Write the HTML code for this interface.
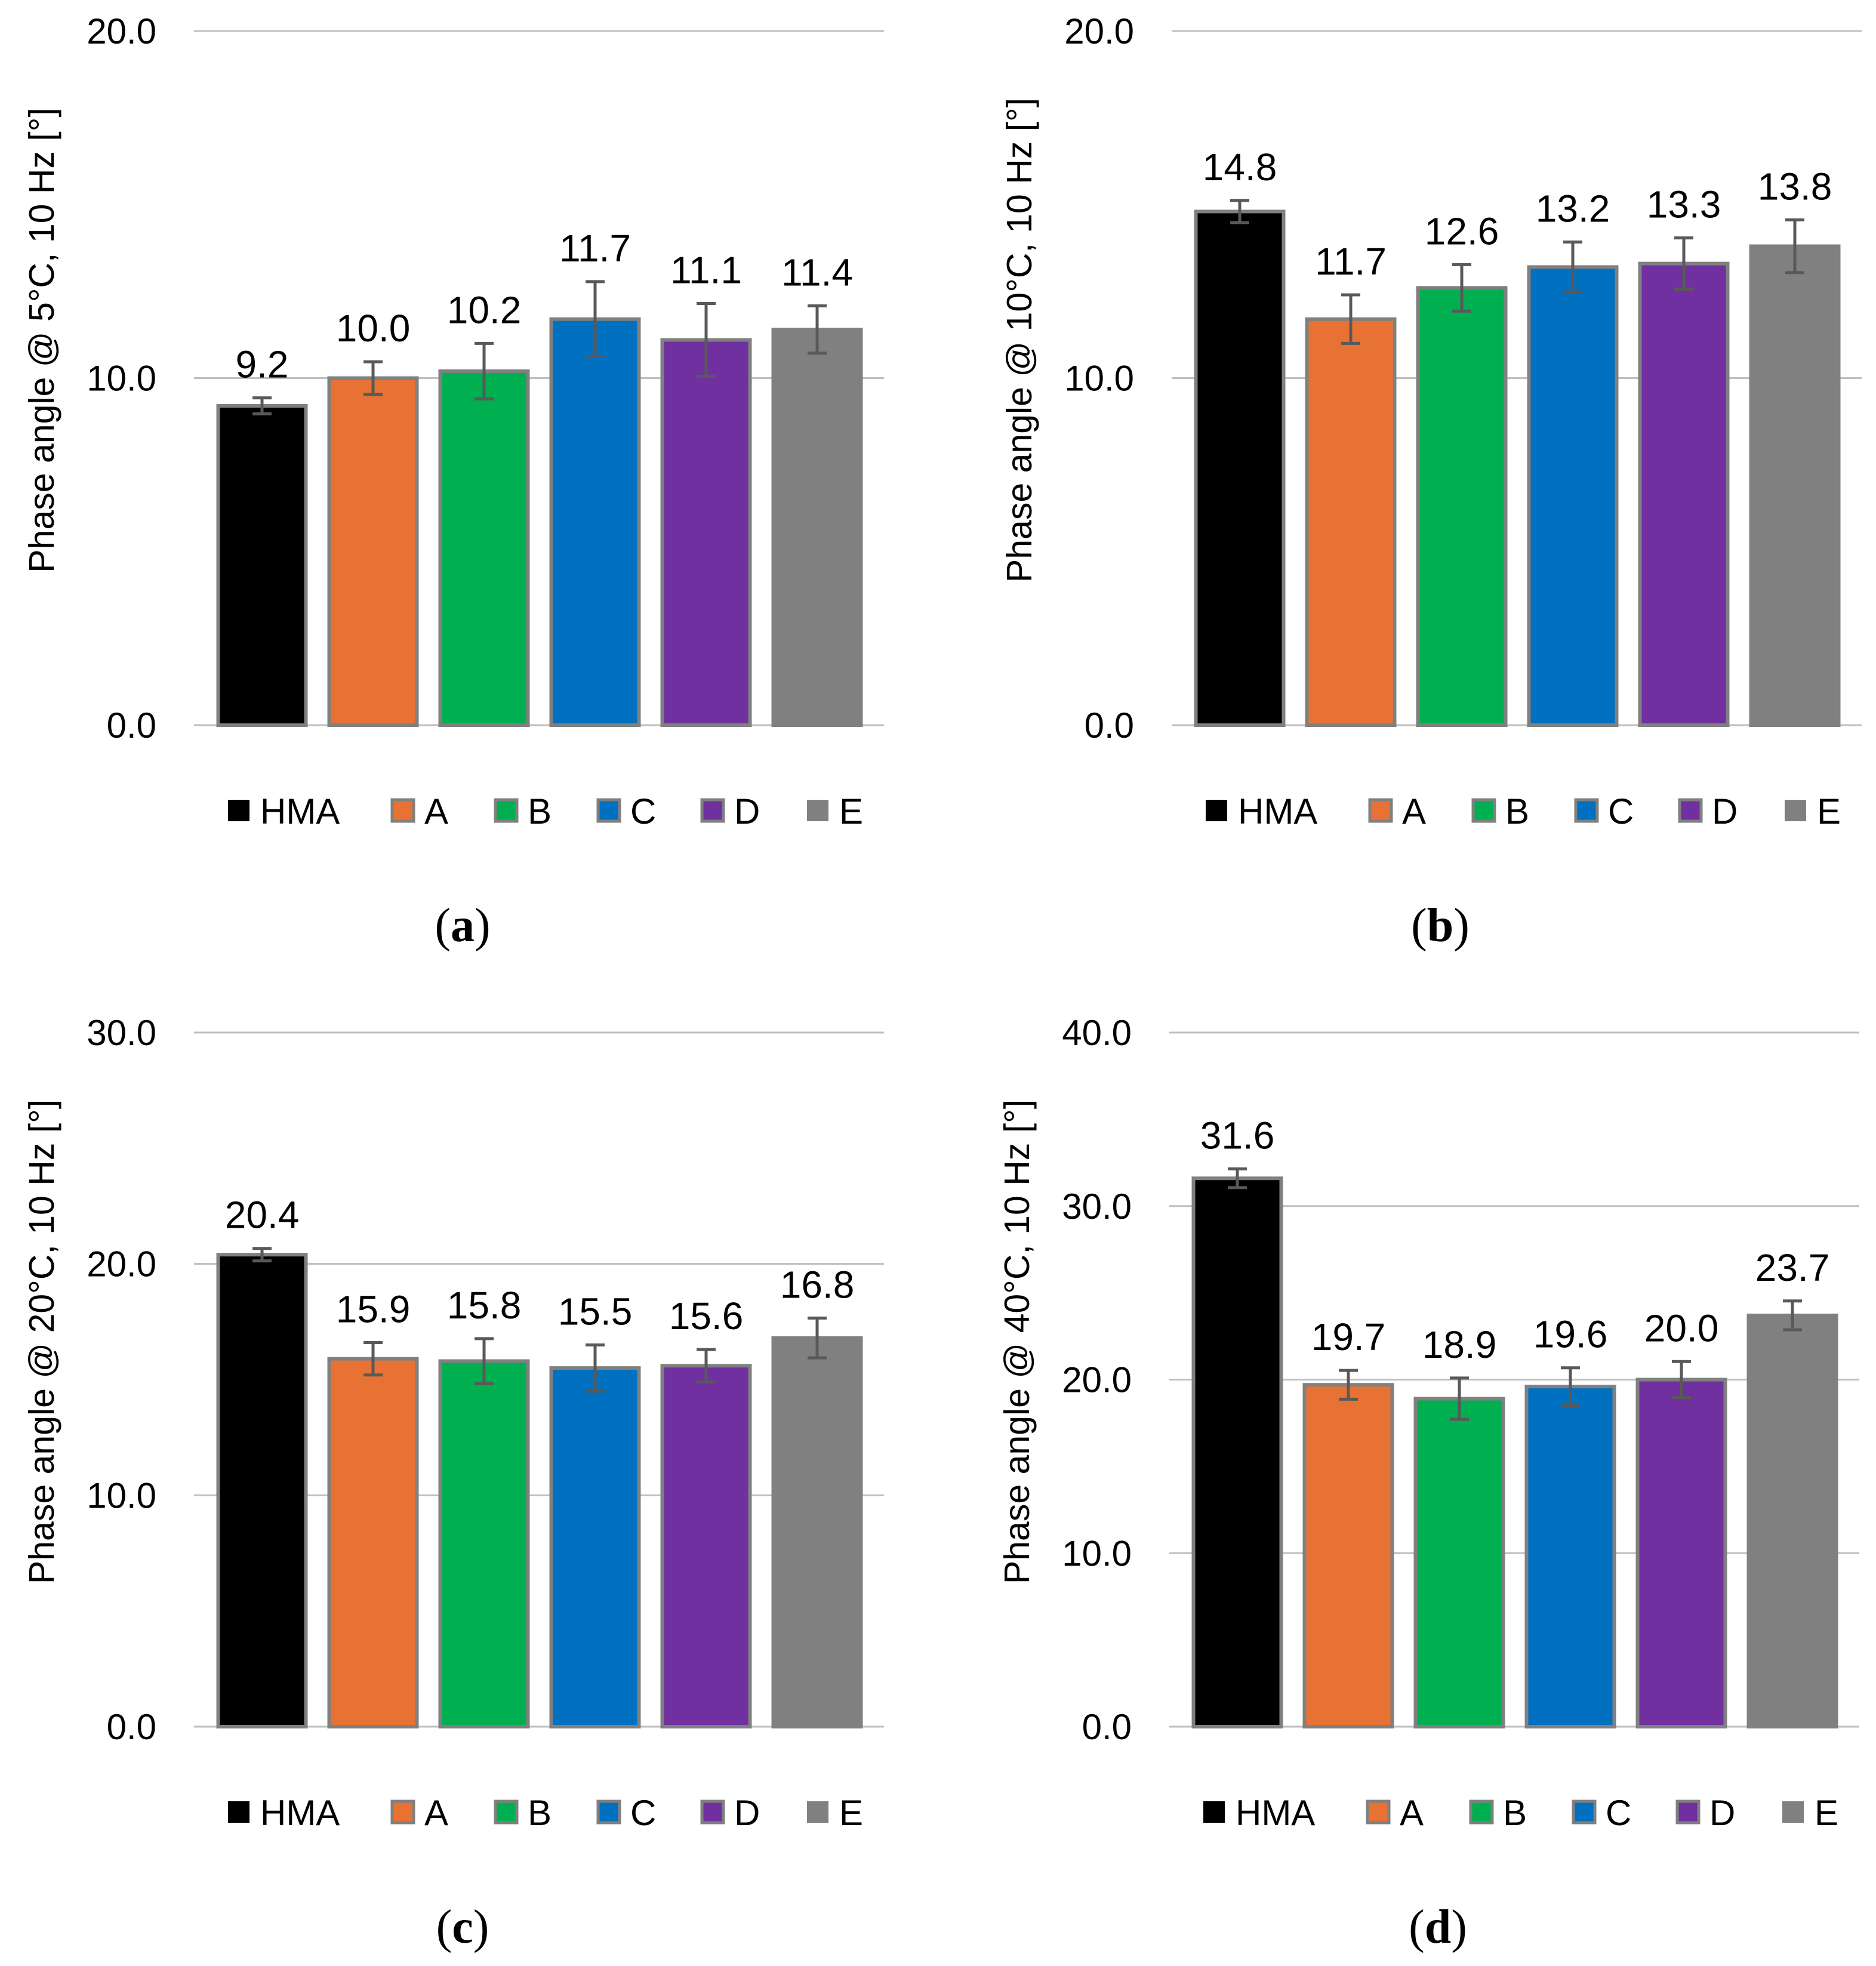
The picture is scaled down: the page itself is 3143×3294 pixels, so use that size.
<!DOCTYPE html>
<html><head><meta charset="utf-8">
<style>
html,body{margin:0;padding:0;background:#fff;}
svg{display:block;}
text{font-family:"Liberation Sans",sans-serif;fill:#000;}
</style></head>
<body>
<svg id="fig" xmlns="http://www.w3.org/2000/svg" width="3143" height="3294" viewBox="0 0 3143 3294"></svg>
<script>
const categories = ["HMA","A","B","C","D","E"];
const colors = ["#000000","#E87234","#00B050","#0070C0","#7030A0","#808080"];
const valuesA = [9.2,10.0,10.2,11.7,11.1,11.4];
const errorsA = [0.23,0.47,0.8,1.08,1.05,0.68];
const valuesB = [14.8,11.7,12.6,13.2,13.3,13.8];
const errorsB = [0.32,0.7,0.67,0.72,0.74,0.76];
const valuesC = [20.4,15.9,15.8,15.5,15.6,16.8];
const errorsC = [0.27,0.7,0.97,1.0,0.7,0.86];
const valuesD = [31.6,19.7,18.9,19.6,20.0,23.7];
const errorsD = [0.54,0.83,1.19,1.08,1.04,0.83];
const ticksA = [0,10,20];
const ticksB = [0,10,20];
const ticksC = [0,10,20,30];
const ticksD = [0,10,20,30,40];
const titles = ["Phase angle @ 5\u00B0C, 10 Hz [\u00B0]","Phase angle @ 10\u00B0C, 10 Hz [\u00B0]","Phase angle @ 20\u00B0C, 10 Hz [\u00B0]","Phase angle @ 40\u00B0C, 10 Hz [\u00B0]"];
const captions = ["a","b","c","d"];

const NS = "http://www.w3.org/2000/svg";
const svg = document.getElementById("fig");
function mk(tag, attrs, parent){
  const e = document.createElementNS(NS, tag);
  for (const k in attrs) e.setAttribute(k, attrs[k]);
  (parent||svg).appendChild(e);
  return e;
}

function panel(idx, ox, oy, values, errors, ticks){
  const g = mk("g", {});
  
  
  const x0 = ox + 325, x1 = ox + 1481;
  const yTop = oy + 52, yBot = oy + 1215;
  const maxV = ticks[ticks.length-1];
  const yS = v => yBot - (v / maxV) * (yBot - yTop);
  const bw = 147;
  const xS = i => ox + 439 + 186 * i;

  ticks.forEach(t => {
    const l = mk("line", {x1:x0, x2:x1, y1:yS(t), y2:yS(t), stroke:"#BFBFBF", "stroke-width":3}, g);
    
    
    const tx = mk("text", {x:ox+262, y:yS(t)+21, "text-anchor":"end", "font-size":60}, g);
    tx.textContent = t.toFixed(1);
    
    
  });

  const yt = mk("text", {x:0, y:0, "text-anchor":"middle", "font-size":59,
    transform:`translate(${ox+90},${oy+570}) rotate(-90)`}, g);
  yt.textContent = titles[idx];
  
  

  values.forEach((v, i) => {
    const cx = xS(i);
    const r = mk("rect", {x:cx-bw/2, y:yS(v), width:bw, height:yBot-yS(v), fill:colors[i], stroke:"#808080", "stroke-width":6}, g);
    
    
    const e = errors[i];
    const et = yS(v+e), eb = yS(v-e);
    const eg = mk("g", {stroke:"#595959", "stroke-width":5}, g);
    
    
    mk("line", {x1:cx, x2:cx, y1:et, y2:eb}, eg);
    mk("line", {x1:cx-16, x2:cx+16, y1:et, y2:et}, eg);
    mk("line", {x1:cx-16, x2:cx+16, y1:eb, y2:eb}, eg);
    const lb = mk("text", {x:cx, y:Math.min(et, yS(v)) - 34, "text-anchor":"middle", "font-size":64}, g);
    lb.textContent = v.toFixed(1);
    
    
  });

  const legX = [382, 657, 830, 1002, 1176, 1352];
  const ly = oy + 1358;
  categories.forEach((c, i) => {
    const lg = mk("g", {}, g);
    
    
    mk("rect", {x:ox+legX[i], y:ly-18, width:36, height:36, fill:colors[i], stroke:"#808080", "stroke-width":(i===0||i===5)?0:5}, lg);
    const t = mk("text", {x:ox+legX[i]+54, y:ly+22, "font-size":60}, lg);
    t.textContent = c;
  });

  const cap = mk("text", {x:ox+775, y:oy+1577, "text-anchor":"middle", "font-size":80, style:'font-family:"Liberation Serif",serif'}, g);
  
  
  cap.innerHTML = '(<tspan font-weight="bold">' + captions[idx] + '</tspan>)';
}

panel(0, 0, 0, valuesA, errorsA, ticksA);
panel(1, 1638, 0, valuesB, errorsB, ticksB);
panel(2, 0, 1678, valuesC, errorsC, ticksC);
panel(3, 1634, 1678, valuesD, errorsD, ticksD);
</script>
</body></html>
